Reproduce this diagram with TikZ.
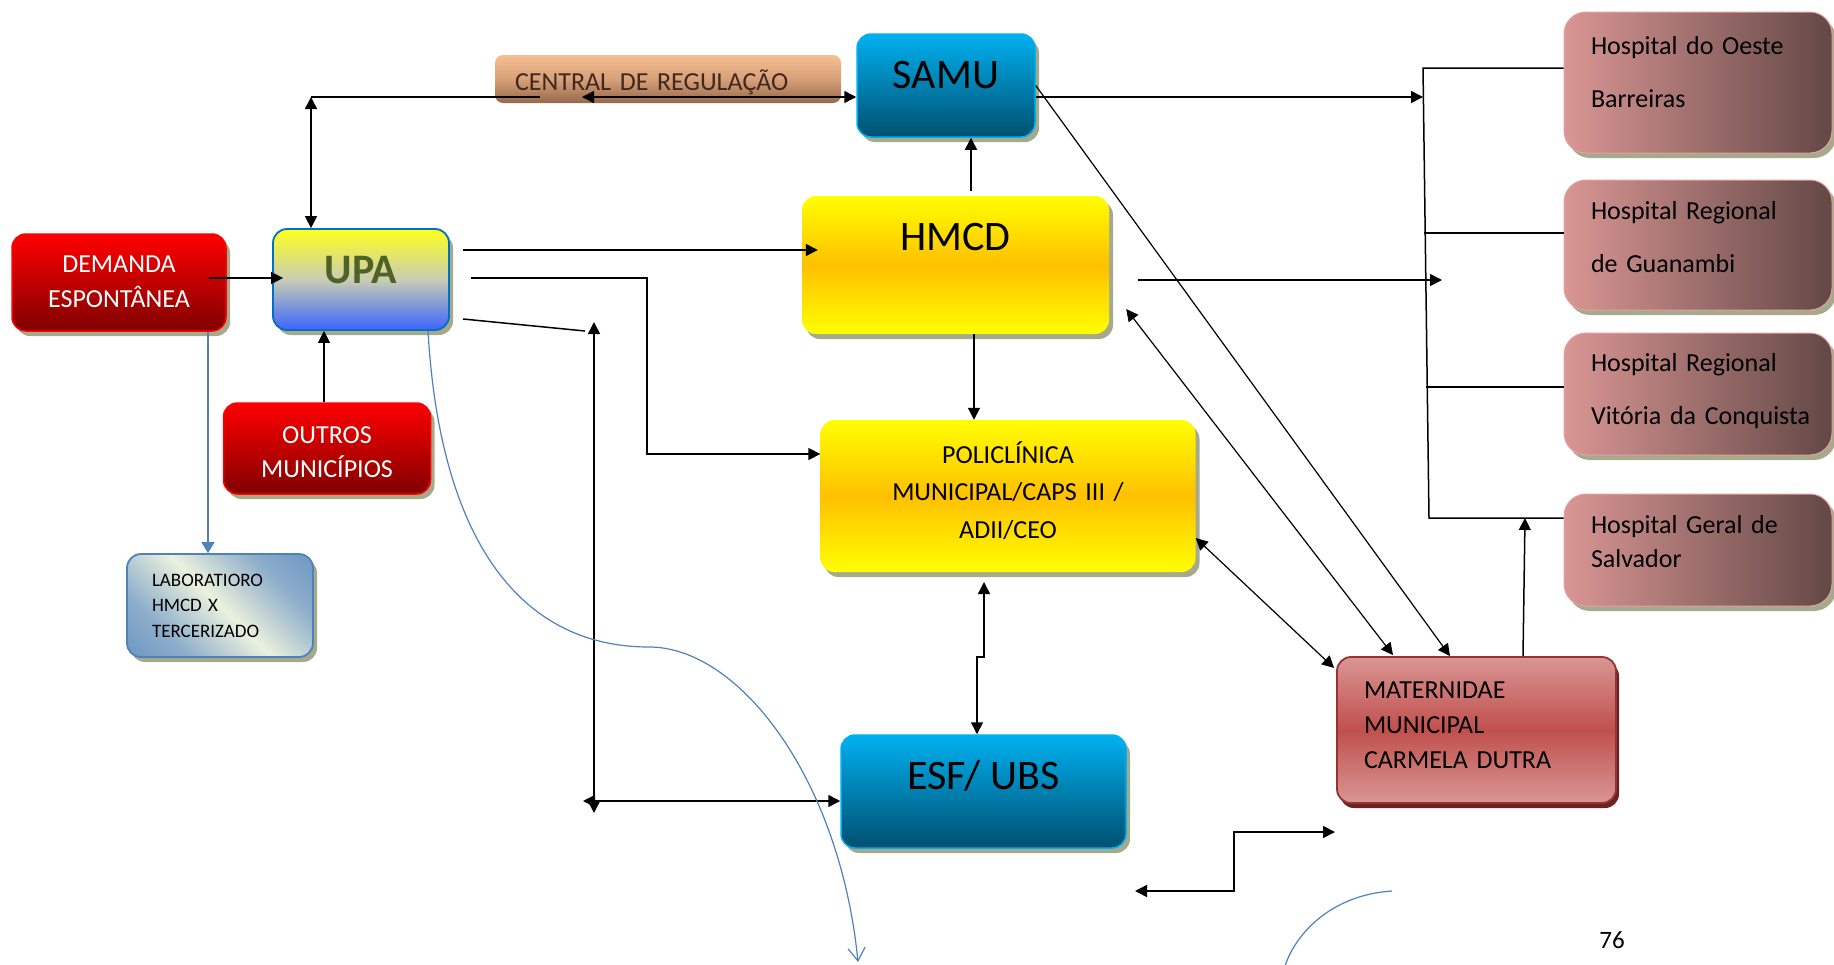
\documentclass[tikz,border=0pt]{standalone}
\usepackage{fontspec}
\setmainfont{Carlito}
\usetikzlibrary{arrows.meta,shadows,calc}
\definecolor{redtop}{RGB}{255,0,0}
\definecolor{redbot}{RGB}{128,0,0}
\definecolor{upatop}{RGB}{255,255,30}
\definecolor{upamid}{RGB}{200,205,180}
\definecolor{upabot}{RGB}{60,100,255}
\definecolor{upaline}{RGB}{0,112,192}
\definecolor{upatext}{RGB}{79,98,40}
\definecolor{samutop}{RGB}{0,176,240}
\definecolor{samubot}{RGB}{0,80,112}
\definecolor{hmcdmid}{RGB}{255,192,0}
\definecolor{matpink}{RGB}{217,150,148}
\definecolor{matred}{RGB}{192,80,77}
\definecolor{matline}{RGB}{150,50,48}
\definecolor{matshadow}{RGB}{105,35,33}
\definecolor{hospright}{RGB}{99,72,70}
\definecolor{hospline}{RGB}{230,160,160}
\definecolor{labblue}{RGB}{79,129,189}
\definecolor{labcream}{RGB}{235,241,222}
\definecolor{regtop}{RGB}{247,190,145}
\definecolor{regmid}{RGB}{215,160,120}
\definecolor{regbot}{RGB}{150,105,75}
\definecolor{regtext}{RGB}{64,40,30}
\definecolor{shadowc}{RGB}{166,170,140}
\pgfdeclarehorizontalshading{labshade}{100bp}{color(0bp)=(labblue); color(30bp)=(labblue!60!labcream);
  color(50bp)=(labcream); color(70bp)=(labblue!60!labcream); color(100bp)=(labblue)}

\tikzset{
  shadowed/.style={drop shadow={shadow xshift=4pt,shadow yshift=-5pt,fill=shadowc,opacity=1}},
  unitbox/.style={rounded corners=14pt, inner sep=0pt, align=center},
  redbox/.style={unitbox, shadowed, draw=redtop, line width=1.5pt, top color=redtop, bottom color=redbot,
    text=white, font=\fontsize{26pt}{35pt}\selectfont},
  upabox/.style={unitbox, shadowed, draw=upaline, line width=1.8pt, top color=upatop, bottom color=upabot,
    middle color=upamid, text=upatext, font=\fontsize{42pt}{50pt}\selectfont\bfseries},
  bluebox/.style={unitbox, shadowed, draw=samutop, line width=1.5pt, top color=samutop, bottom color=samubot,
    font=\fontsize{42pt}{50pt}\selectfont},
  yellowbox/.style={unitbox, shadowed, draw=none, top color=yellow, bottom color=yellow, middle color=hmcdmid},
  matbox/.style={unitbox, drop shadow={shadow xshift=3pt,shadow yshift=-5pt,fill=matshadow,opacity=1},
    draw=matline, line width=1.8pt, top color=matpink, bottom color=matpink, middle color=matred,
    align=left, font=\fontsize{26pt}{35pt}\selectfont},
  hospbox/.style={unitbox, shadowed, rounded corners=22pt, draw=hospline, line width=1pt,
    left color=matpink, right color=hospright, align=left, text width=214pt, text height=18pt,
    minimum width=268pt, font=\fontsize{26pt}{53pt}\selectfont},
  labbox/.style={unitbox, shadowed, draw=labblue, line width=1.8pt, shading=labshade, shading angle=45,
    align=left, font=\fontsize{19pt}{25.5pt}\selectfont},
  regbox/.style={unitbox, rounded corners=8pt, draw=none, top color=regtop, bottom color=regbot,
    middle color=regmid, text=regtext, align=left, font=\fontsize{26pt}{30pt}\selectfont},
  link/.style={line width=1.5pt},
  slim/.style={line width=1.2pt},
  flow/.style={-{Triangle[length=12pt,width=12pt]}},
  biflow/.style={{Triangle[length=12pt,width=12pt]}-{Triangle[length=12pt,width=12pt]}},
  bluelink/.style={draw=labblue, line width=1.2pt}
}

\begin{document}
\begin{tikzpicture}[x=1pt,y=-1pt]
\useasboundingbox (0,0) rectangle (1834,964);

\node[redbox, minimum width=214pt, minimum height=97pt, text width=200pt, text height=17pt, text depth=37.6pt]
  (demanda) at (119,282.5) {DEMANDA\\ESPONTÂNEA};
\node[upabox, minimum width=176pt, minimum height=101pt, text height=26.5pt, text depth=19pt]
  (upa) at (361,279.5) {UPA};
\node[redbox, minimum width=207pt, minimum height=91pt, text width=190pt, text height=17pt, text depth=27.6pt,
  font=\fontsize{26pt}{34pt}\selectfont] (outros) at (327,448.5) {OUTROS\\MUNICÍPIOS};
\node[labbox, minimum width=186pt, minimum height=103pt, text width=136pt, text height=12pt, text depth=51pt]
  (lab) at (220,605.5) {LABORATIORO\\HMCD X\\TERCERIZADO};
\node[regbox, minimum width=346pt, minimum height=48pt, text width=306pt, text height=23pt, text depth=1pt]
  (central) at (668,79) {CENTRAL DE REGULAÇÃO};
\node[bluebox, minimum width=178pt, minimum height=103pt, text height=26.5pt, text depth=21pt]
  (samu) at (946,85.5) {SAMU};
\node[yellowbox, minimum width=307pt, minimum height=138pt, text height=26.5pt, text depth=56pt,
  font=\fontsize{42pt}{50pt}\selectfont] (hmcd) at (955.5,265) {HMCD};
\node[yellowbox, minimum width=375pt, minimum height=152pt, text width=330pt, text height=17pt, text depth=82.6pt,
  font=\fontsize{26pt}{37.5pt}\selectfont] (poli) at (1008,496) {POLICLÍNICA\\MUNICIPAL/CAPS III /\\ADII/CEO};
\node[bluebox, minimum width=285pt, minimum height=113pt, text height=26.5pt, text depth=31pt]
  (esf) at (983.5,791.5) {ESF/ UBS};
\node[matbox, minimum width=279pt, minimum height=146pt, text width=225pt, text height=17pt, text depth=80pt]
  (mat) at (1476.5,730) {MATERNIDAE\\MUNICIPAL\\CARMELA DUTRA};
\node[hospbox, minimum height=141pt, text depth=75pt] (hosp1) at (1698,82.5) {Hospital do Oeste\\Barreiras};
\node[hospbox, minimum height=130pt, text depth=69pt] (hosp2) at (1698,245) {Hospital Regional\\de Guanambi};
\node[hospbox, minimum height=122pt, text depth=64pt] (hosp3) at (1698,394)
  {Hospital Regional\\\mbox{Vitória da Conquista}};
\node[hospbox, minimum height=112pt, text depth=52pt, font=\fontsize{26pt}{34pt}\selectfont]
  (hosp4) at (1698,550) {Hospital Geral de\\Salvador};
\node[font=\fontsize{25pt}{30pt}\selectfont] (pagenum) at (1612,940) {76};

\coordinate (regL) at (311,97);
\coordinate (regE) at (540,97);
\coordinate (regA) at (582,97);
\coordinate (busT) at (1423,68);
\coordinate (busS) at (1423,97);
\coordinate (bus2) at (1424,233);
\coordinate (bus3) at (1426,387);
\coordinate (busB) at (1429,518);
\coordinate (busH) at (1442,280);
\coordinate (busM) at (1525,518);
\coordinate (hmcdR) at (1138,280);
\coordinate (upaR1) at (463,250);
\coordinate (upaR2) at (471,278);
\coordinate (upaR3) at (463,319);
\coordinate (poliK) at (647,454);
\coordinate (slantE) at (585,331);
\coordinate (vTop) at (594,322);
\coordinate (vBot) at (594,813);
\coordinate (hLeft) at (583,801);
\coordinate (peA) at (984,582);
\coordinate (peB) at (984,657);
\coordinate (peC) at (977,657);
\coordinate (stepL) at (1135,891);
\coordinate (stepM) at (1234,832);
\coordinate (stepR) at (1335,832);
\coordinate (curveM) at (649,647);
\coordinate (curveE) at (858,962);
\coordinate (arcA) at (1392,891);
\coordinate (arcB) at (1285,966);

\draw[link, biflow] (regL |- upa.north) -- (regL);
\draw[link] (regL) -- (regE);
\draw[link, biflow] (regA) -- (samu.west |- regA);
\draw[link, flow] (samu.east |- regA) -- (busS);
\draw[link] (hosp1.west |- busT) -- (busT) -- (busB) -- (hosp4.west |- busB);
\draw[link] (bus2) -- (hosp2.west |- bus2);
\draw[link] (bus3) -- (hosp3.west |- bus3);
\draw[link, flow] (hmcdR) -- (busH);
\draw[link, flow] ($(mat.north)+(46.5,0)$) -- (busM);
\draw[slim, flow] (samu.east) -- ($(mat.north)+(-26.5,0)$);
\draw[slim, biflow] ($(hmcd.east)+(17,44)$) -- ($(mat.north)+(-83.5,-1)$);
\draw[slim, biflow] ($(poli.east)+(0,42)$) -- ($(mat.west)+(-2,-62)$);
\draw[link, biflow] (stepL) -| (stepM) -- (stepR);

\draw[link, flow] ($(demanda.east)+(-18,-4.5)$) -- ($(upa.west)+(11,-1.5)$);
\draw[link, flow] ($(outros.north)+(-3,0)$) -- ($(upa.south)+(-37,0)$);
\draw[bluelink, -{Triangle[length=11pt,width=13pt]}] ($(demanda.south)+(89,0)$) -- ($(lab.north)+(-12,0)$);
\draw[link, flow] (upaR1) -- ($(hmcd.west |- upaR1)+(16,0)$);
\draw[link, flow] (upaR2) -| (poliK) -- (poli.west |- poliK);
\draw[link] (upaR3) -- (slantE);
\draw[link, biflow] (vTop) -- (vBot);
\draw[link, biflow] (hLeft) -- (esf.west |- hLeft);
\draw[link, flow] ($(hmcd.north)+(15.5,-5)$) -- ($(samu.south)+(25,0)$);
\draw[link, flow] ($(hmcd.south)+(18.5,0)$) -- ($(poli.north)+(-34,0)$);
\draw[link, biflow] (peA) -- (peB) -- (peC) -- (esf.north -| peC);

\draw[bluelink, -{Straight Barb[length=13pt,width=17pt]}] ($(upa.south)+(67,0)$)
  .. controls (440,540) and (520,647) .. (curveM) .. controls (740,647) and (840,780) .. (curveE);
\draw[bluelink] (arcA) .. controls (1330,895) and (1295,935) .. (arcB);
\end{tikzpicture}
\end{document}
